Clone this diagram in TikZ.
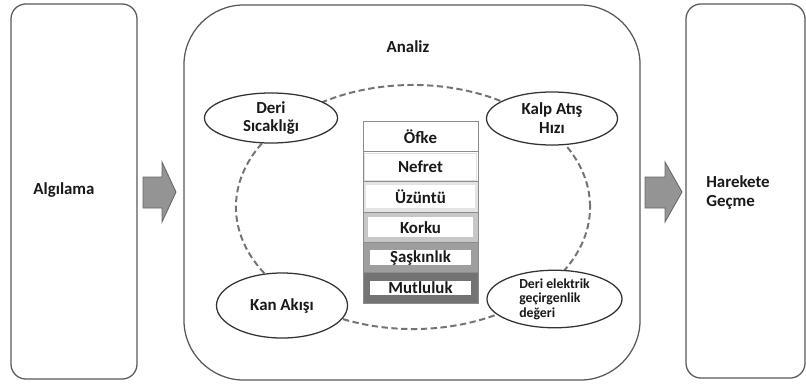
\documentclass[tikz,border=0pt]{standalone}
\usepackage{fontspec}
\setmainfont{Carlito}
\usetikzlibrary{shapes.geometric}
\tikzset{
  panel/.style={draw=black!65, line width=0.9pt, rounded corners=0.375cm, fill=white},
  oval/.style={ellipse, draw=black!80, line width=0.9pt, fill=white, inner sep=0pt, align=center,
    font=\bfseries\fontsize{12}{13.5}\selectfont, text=black!90},
  ring/.style={draw=black!55, line width=1.4pt, dash pattern=on 4.5pt off 2.5pt},
  row/.style={draw=black!45, line width=0.6pt, minimum width=2.875cm, minimum height=0.7575cm, inner sep=0pt,
    font=\bfseries\fontsize{12}{14}\selectfont, text=black!90},
  lbl/.style={fill=white, inner sep=0pt, font=\bfseries\fontsize{12}{14}\selectfont, text=black!90},
  word/.style={font=\bfseries\fontsize{12}{13.5}\selectfont, text=black!90, align=left, inner sep=0pt},
  blockarrow/.style={fill=black!42, draw=black!60, line width=0.6pt},
}
\begin{document}
\begin{tikzpicture}[x=0.025cm, y=-0.025cm]
		%%%%% START %%%%%
		\useasboundingbox (0, 0) rectangle (806, 383);
		
		\node[panel, minimum width=3.15cm, minimum height=9.375cm] (algi) at (74, 191.5) {};
		\node[word] (algitext) at (64, 190) {Algılama};
		
		\node[panel, rounded corners=1.5cm, minimum width=11.4cm, minimum height=9.375cm] (analiz) at (412, 192.5) {};
		\node[word] (analiztext) at (408, 47) {Analiz};
		
		\node[panel, minimum width=2.975cm, minimum height=9.35cm] (hareket) at (745.5, 191) {};
		\node[word, anchor=west] (hareketext) at (706, 192) {Harekete\\Geçme};
		
		\draw[blockarrow] (143, 177) -- (162, 177) -- (162, 162) -- (176, 192) -- (162, 222) -- (162, 208) -- (143, 208) -- cycle;
		\draw[blockarrow] (645, 177) -- (665, 177) -- (665, 162) -- (682, 192) -- (665, 222) -- (665, 208) -- (645, 208) -- cycle;
		
		\draw[ring] (413, 207) ellipse [x radius=4.425cm, y radius=3.05cm];
		
		\node[oval, minimum width=3.325cm, minimum height=1.25cm] (sicak) at (271, 118) {Deri\\Sıcaklığı};
		\node[oval, minimum width=3.275cm, minimum height=1.325cm] (kalp) at (552, 118.5) {Kalp Atış\\Hızı};
		\node[oval, minimum width=3.275cm, minimum height=1.625cm] (kan) at (282, 305.5) {Kan Akışı};
		\node[oval, minimum width=3.375cm, minimum height=1.3cm, align=left,
			font=\bfseries\fontsize{9.8}{10.2}\selectfont] (elektrik) at (554.5, 299) {Deri elektrik\\geçirgenlik\\değeri};
		
		\node[row, fill=white] (ofke) at (420.5, 136.2) {Öfke};
		\node[row, fill=white] (nefret) at (420.5, 166.5) {};
		\node[lbl, draw=black!12, minimum width=2.8cm, minimum height=0.675cm] (nefrettext) at (nefret) {Nefret};
		\node[row, fill=black!11] (uzuntu) at (420.5, 196.8) {};
		\node[lbl, minimum width=2.725cm, minimum height=0.575cm] (uzuntutext) at (uzuntu) {Üzüntü};
		\node[row, fill=black!22] (korku) at (420.5, 227.2) {};
		\node[lbl, minimum width=2.625cm, minimum height=0.5cm] (korkutext) at (korku) {Korku};
		\node[row, fill=black!38] (saskin) at (420.5, 257.5) {};
		\node[lbl, minimum width=2.5cm, minimum height=0.375cm] (saskintext) at (saskin) {Şaşkınlık};
		\node[row, fill=black!55] (mutlu) at (420.5, 287.8) {};
		\node[lbl, minimum width=2.525cm, minimum height=0.35cm] (mutlutext) at (mutlu) {Mutluluk};
		
		%%%%% END %%%%%
	\end{tikzpicture}
\end{document}
